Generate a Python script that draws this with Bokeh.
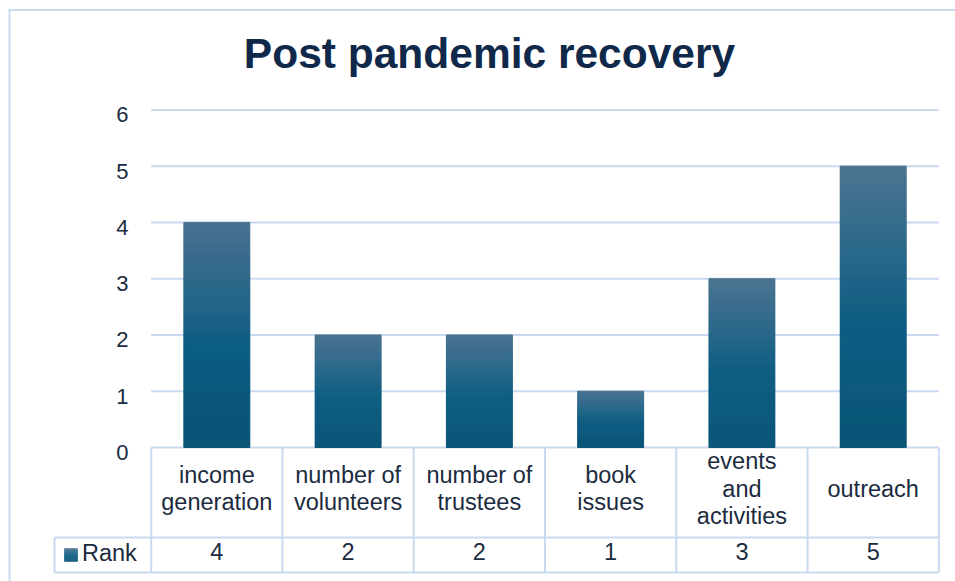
from bokeh.plotting import figure
from bokeh.models import Range1d
from bokeh.core.properties import value
from bokeh.embed import file_html
from bokeh.resources import INLINE

# ---------------- data ----------------
title_text = "Post pandemic recovery"
categories = ["income\ngeneration", "number of\nvolunteers", "number of\ntrustees",
              "book\nissues", "events\nand\nactivities", "outreach"]
series_name = "Rank"
rank = [4, 2, 2, 1, 3, 5]
y_ticks = [0, 1, 2, 3, 4, 5, 6]

# ---------------- layout helpers ----------------
W, H = 955, 581
OX, OY = 0, 0            # page position of the canvas
X0, UX = 150.7, 131.27   # page px of category 0 left edge, px per category
Y0, UY = 447.0, 56.27    # page px of value 0, px per unit


def dx(px):
    return (px - X0) / UX


def dy(py):
    return (Y0 - py) / UY


SMALL_FIX = 7.0    # baseline correction for small text (px)
TITLE_FIX = 15.0   # baseline correction for title (px)

FONT = value("Liberation Sans")
TXT = "#1b2b40"
TITLE_C = "#10284a"
GRID_C = "#c9daf0"

stops = [(0.0, (76, 116, 146)), (0.55, (15, 94, 131)), (1.0, (11, 86, 121))]


def grad(t):
    for (t0, c0), (t1, c1) in zip(stops[:-1], stops[1:]):
        if t <= t1:
            f = (t - t0) / (t1 - t0)
            c = [round(a + (b - a) * f) for a, b in zip(c0, c1)]
            return "#%02x%02x%02x" % tuple(c)
    return "#%02x%02x%02x" % stops[-1][1]


p = figure(width=W, height=H, output_backend="svg", toolbar_location=None,
           x_range=Range1d(dx(OX), dx(OX + W)), y_range=Range1d(dy(OY + H), dy(OY)),
           x_axis_location=None, y_axis_location=None, min_border=0, title=None)
p.outline_line_color = None
p.grid.visible = False
p.background_fill_color = "white"
p.border_fill_color = "white"

n = len(categories)

# outer chart border (left and top visible)
p.segment(x0=[dx(9), dx(8)], y0=[dy(OY + H), dy(9.5)], x1=[dx(9), dx(OX + W)], y1=[dy(9.5), dy(9.5)],
          line_color=GRID_C, line_width=2)

# gridlines
p.segment(x0=[0] * len(y_ticks), x1=[n] * len(y_ticks), y0=y_ticks, y1=y_ticks,
          line_color=GRID_C, line_width=2)

# gradient bars (one slice per pixel row)
bx, btop, bbot, bcol = [], [], [], []
for i, v in enumerate(rank):
    N = max(8, int(round(v * UY)))
    for k in range(N):
        t0, t1 = k / N, (k + 1) / N
        bx.append(i + 0.5)
        btop.append(v * (1 - t0))
        bbot.append(v * (1 - t1))
        bcol.append(grad((t0 + t1) / 2))
p.vbar(x=bx, top=btop, bottom=bbot, width=0.51 - 1 / UX, fill_color=bcol, line_color=bcol,
       line_width=1)

# y tick labels
p.text(x=[dx(128)] * len(y_ticks), y=[t - (12 - SMALL_FIX) / UY for t in y_ticks],
       text=[str(t) for t in y_ticks], text_align="right", text_baseline="alphabetic",
       text_font=FONT, text_font_size="22px", text_color=TXT)

# data table lines
xs_v = list(range(n + 1))
p.segment(x0=xs_v, x1=xs_v, y0=[0] * (n + 1), y1=[dy(572)] * (n + 1), line_color=GRID_C, line_width=2)
p.segment(x0=[dx(54)] * 3, x1=[n, n, dx(54)], y0=[dy(537), dy(572), dy(537)],
          y1=[dy(537), dy(572), dy(572)], line_color=GRID_C, line_width=2)

# category labels
lx, ly, lt = [], [], []
for i, c in enumerate(categories):
    lines = c.split("\n")
    m = len(lines)
    for j, s in enumerate(lines):
        lx.append(i + 0.5)
        ly.append(dy(495 + (j - (m - 1) / 2) * 27.6 - SMALL_FIX))
        lt.append(s)
p.text(x=lx, y=ly, text=lt, text_align="center", text_baseline="alphabetic", text_font=FONT,
       text_font_size="23.5px", text_color=TXT)

# rank row values
p.text(x=[i + 0.5 for i in range(n)], y=[dy(558 - SMALL_FIX)] * n, text=[str(v) for v in rank],
       text_align="center", text_baseline="alphabetic", text_font=FONT, text_font_size="23.5px",
       text_color=TXT)

# legend key + series name
K = 13
kx0, kx1, ky0, ky1 = 64, 77, 548, 561
p.quad(left=[dx(kx0)] * K, right=[dx(kx1)] * K,
       top=[dy(ky0 + (ky1 - ky0) * k / K) for k in range(K)],
       bottom=[dy(ky0 + (ky1 - ky0) * (k + 1) / K) for k in range(K)],
       fill_color=[grad((k + 0.5) / K) for k in range(K)],
       line_color=[grad((k + 0.5) / K) for k in range(K)], line_width=0.5)
p.text(x=[dx(81.5)], y=[dy(559 - SMALL_FIX)], text=[series_name], text_align="left",
       text_baseline="alphabetic", text_font=FONT, text_font_size="23.5px", text_color=TXT)

# title
p.text(x=[dx(489)], y=[dy(68.3 - TITLE_FIX)], text=[title_text], text_align="center",
       text_baseline="alphabetic", text_font=FONT, text_font_style="bold",
       text_font_size="42.5px", text_color=TITLE_C)

open("out.html", "w").write(file_html(p, INLINE))
